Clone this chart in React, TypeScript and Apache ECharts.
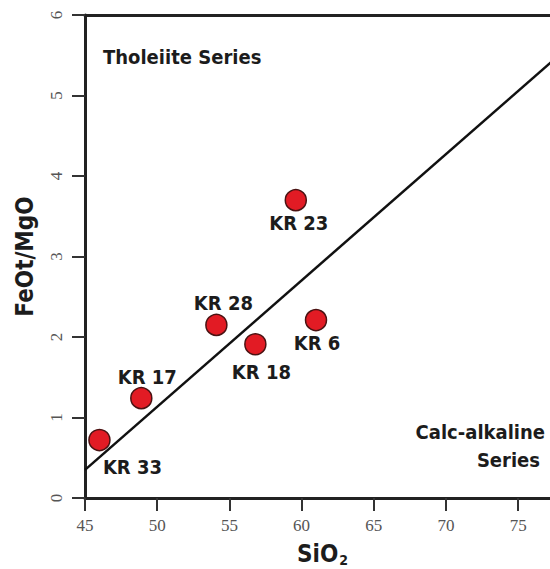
import React, { useEffect, useRef } from "react";
import * as echarts from "echarts";

const sampleNames = ["KR 33", "KR 17", "KR 28", "KR 18", "KR 6", "KR 23"];
const sio2 = [46.0, 48.9, 54.1, 56.8, 61.0, 59.6];
const feoMgo = [0.72, 1.24, 2.15, 1.91, 2.21, 3.7];
const labelOffsets = [
  [33, 27],
  [6, -21],
  [7, -22],
  [6, 28],
  [1, 23],
  [3, 23],
];
const dividerX = [45, 77.9];
const dividerY = [0.35, 5.51];
const xTicks = [45, 50, 55, 60, 65, 70, 75];

const BOLD = "'Liberation Sans Narrow', 'DejaVu Sans Condensed', 'Roboto Condensed', sans-serif";

export default function App() {
  const ref = useRef<HTMLDivElement>(null);
  useEffect(() => {
    const chart = echarts.init(ref.current!, null, { renderer: "svg" });
    const boldText = (size: number) => ({
      fontFamily: BOLD,
      fontWeight: "bold",
      fontSize: size,
      fill: "#1c1c1c",
    });
    chart.setOption({
      animation: false,
      backgroundColor: "#ffffff",
      grid: { left: 85, right: -10, top: 15, bottom: 71, outerBoundsMode: "none", containLabel: false },
      xAxis: [
        {
          type: "value",
          min: 45,
          max: 77.9,
          name: "SiO{sub|2}",
          nameLocation: "middle",
          nameGap: 43,
          nameTextStyle: {
            fontFamily: BOLD,
            fontWeight: "bold",
            fontSize: 24,
            lineHeight: 26,
            color: "#1c1c1c",
            rich: {
              sub: {
                fontFamily: BOLD,
                fontWeight: "bold",
                fontSize: 14,
                lineHeight: 16,
                color: "#1c1c1c",
                verticalAlign: "bottom",
                padding: [0, 0, 0, 1],
              },
            },
          },
          axisLine: { show: true, onZero: false, lineStyle: { color: "#222", width: 3 } },
          axisTick: {
            show: true,
            length: 13,
            customValues: xTicks,
            lineStyle: { color: "#333", width: 2 },
          },
          axisLabel: {
            customValues: xTicks,
            margin: 19,
            fontFamily: "Liberation Serif",
            fontSize: 17,
            color: "#555",
          },
          splitLine: { show: false },
        },
        {
          type: "value",
          position: "top",
          min: 45,
          max: 77.9,
          axisLine: { show: true, onZero: false, lineStyle: { color: "#222", width: 3 } },
          axisTick: { show: false },
          axisLabel: { show: false },
          splitLine: { show: false },
        },
      ],
      yAxis: {
        type: "value",
        min: 0,
        max: 6,
        interval: 1,
        name: "FeOt/MgO",
        nameLocation: "middle",
        nameGap: 48,
        nameTextStyle: {
          fontFamily: BOLD,
          fontWeight: "bold",
          fontSize: 24,
          color: "#1c1c1c",
        },
        axisLine: { show: true, onZero: false, lineStyle: { color: "#222", width: 3 } },
        axisTick: { show: true, length: 13, lineStyle: { color: "#333", width: 2 } },
        axisLabel: {
          rotate: 90,
          margin: 20,
          fontFamily: "Liberation Serif",
          fontSize: 17,
          color: "#555",
        },
        splitLine: { show: false },
      },
      graphic: [
        {
          type: "text",
          x: 103,
          y: 57,
          style: { text: "Tholeiite Series", align: "left", verticalAlign: "middle", ...boldText(20) },
        },
        {
          type: "text",
          x: 545,
          y: 432,
          style: { text: "Calc-alkaline", align: "right", verticalAlign: "middle", ...boldText(20) },
        },
        {
          type: "text",
          x: 540,
          y: 460,
          style: { text: "Series", align: "right", verticalAlign: "middle", ...boldText(20) },
        },
      ],
      series: [
        {
          type: "line",
          data: dividerX.map((x, i) => [x, dividerY[i]]),
          symbol: "none",
          lineStyle: { color: "#111", width: 2.5 },
          silent: true,
          z: 1,
        },
        {
          type: "scatter",
          symbolSize: 21,
          z: 3,
          itemStyle: { color: "#e21b24", borderColor: "#4a1212", borderWidth: 1.5, opacity: 1 },
          data: sio2.map((x, i) => ({
            value: [x, feoMgo[i]],
            label: {
              show: true,
              formatter: sampleNames[i],
              position: "inside",
              offset: labelOffsets[i],
              fontFamily: BOLD,
              fontWeight: "bold",
              fontSize: 20,
              color: "#1c1c1c",
            },
          })),
        },
      ],
    });
    return () => chart.dispose();
  }, []);
  return (
    <div
      ref={ref}
      style={{ position: "absolute", left: 0, top: 0, width: 550, height: 569, overflow: "hidden" }}
    />
  );
}
